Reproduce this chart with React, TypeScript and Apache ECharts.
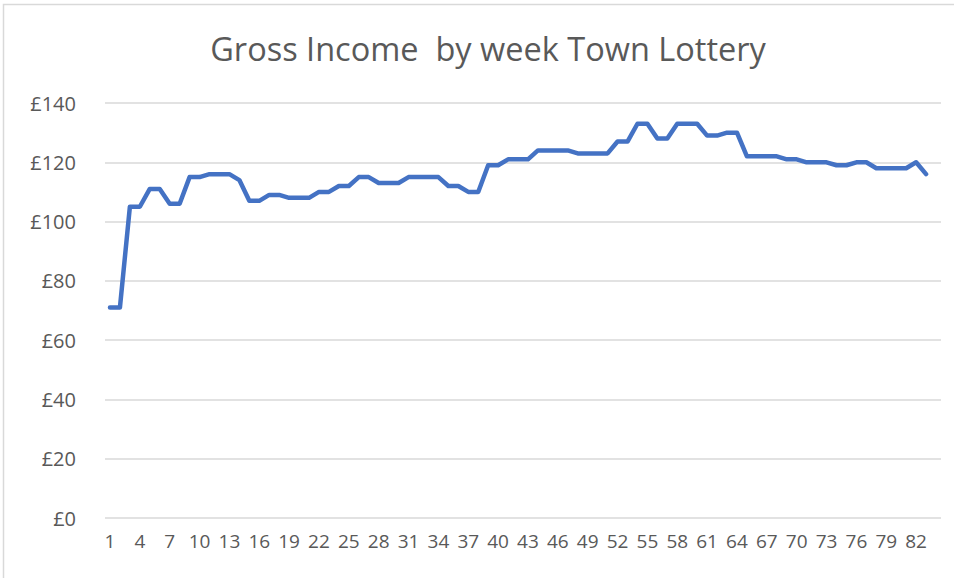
import React, { useEffect, useRef } from "react";
import * as echarts from "echarts";

const TITLE = "Gross Income  by week Town Lottery";

const weeks: string[] = Array.from({ length: 84 }, (_, i) => String(i + 1));

const income: (number | null)[] = [
  71, 71, 105, 105, 111, 111, 106, 106, 115, 115,
  116, 116, 116, 114, 107, 107, 109, 109, 108, 108,
  108, 110, 110, 112, 112, 115, 115, 113, 113, 113,
  115, 115, 115, 115, 112, 112, 110, 110, 119, 119,
  121, 121, 121, 124, 124, 124, 124, 123, 123, 123,
  123, 127, 127, 133, 133, 128, 128, 133, 133, 133,
  129, 129, 130, 130, 122, 122, 122, 122, 121, 121,
  120, 120, 120, 119, 119, 120, 120, 118, 118, 118,
  118, 120, 116, null,
];

const yTicks = [0, 20, 40, 60, 80, 100, 120, 140];

export default function App() {
  const ref = useRef<HTMLDivElement>(null);
  useEffect(() => {
    if (!ref.current) return;
    const chart = echarts.init(ref.current, undefined, { renderer: "svg" });
    chart.setOption({
      animation: false,
      backgroundColor: "#ffffff",
      title: {
        text: TITLE,
        left: 483,
        top: 27,
        textAlign: "center",
        textStyle: {
          fontFamily: "Open Sans",
          fontSize: 32.5,
          fontWeight: "normal",
          color: "#595959",
        },
      },
      graphic: [
        {
          type: "rect",
          shape: { x: 3.5, y: 4.5, width: 980, height: 620 },
          style: { fill: "none", stroke: "#D9D9D9", lineWidth: 1.5 },
          silent: true,
        },
      ],
      grid: { left: 105, right: 13, top: 103, bottom: 60, containLabel: false },
      xAxis: {
        type: "category",
        data: weeks,
        boundaryGap: true,
        axisLine: { show: false },
        axisTick: { show: false },
        axisLabel: {
          interval: 2,
          color: "#595959",
          fontFamily: "Open Sans",
          fontSize: 19,
          margin: 13,
        },
        splitLine: { show: false },
      },
      yAxis: {
        type: "value",
        min: yTicks[0],
        max: yTicks[yTicks.length - 1],
        interval: 20,
        axisLine: { show: false },
        axisTick: { show: false },
        axisLabel: {
          color: "#595959",
          fontFamily: "Open Sans",
          fontSize: 20,
          margin: 29,
          formatter: (v: number) => "£" + v,
        },
        splitLine: { lineStyle: { color: "#D9D9D9", width: 1.5 } },
      },
      series: [
        {
          type: "line",
          data: income,
          showSymbol: false,
          symbol: "none",
          connectNulls: false,
          lineStyle: { color: "#4472C4", width: 4.5, cap: "round", join: "round" },
          itemStyle: { color: "#4472C4" },
        },
      ],
    });
    return () => chart.dispose();
  }, []);
  return (
    <div
      ref={ref}
      style={{ position: "fixed", left: 0, top: 0, width: 954, height: 578 }}
    />
  );
}
